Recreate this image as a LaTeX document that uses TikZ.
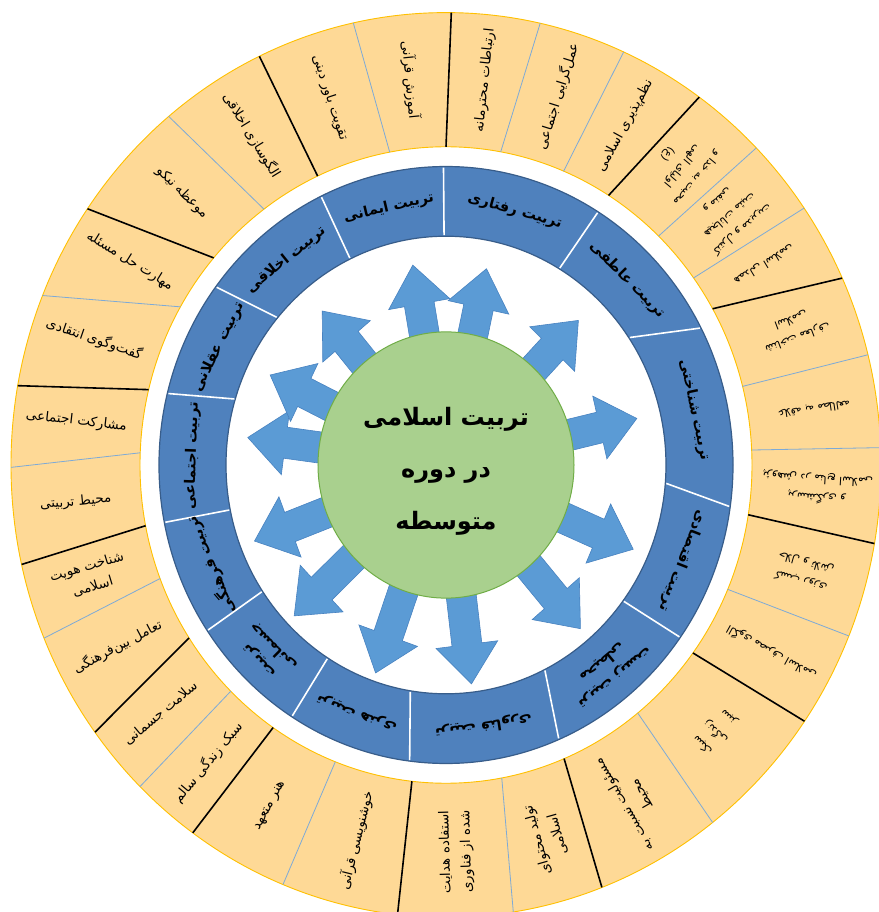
\documentclass[tikz,border=0pt]{standalone}
\usepackage{fontspec}
\TeXXeTstate=1
\newfontfamily\fa[Script=Arabic]{DejaVu Sans}
\newcommand\fr[1]{\beginR #1\endR}
\definecolor{ringfill}{RGB}{254,217,150}
\definecolor{ringedge}{RGB}{255,192,0}
\definecolor{sepblue}{RGB}{125,170,215}
\definecolor{segblue}{RGB}{79,129,189}
\definecolor{segedge}{RGB}{56,93,138}
\definecolor{arrowfill}{RGB}{91,155,213}
\definecolor{arrowedge}{RGB}{72,130,192}
\definecolor{hubfill}{RGB}{169,208,142}
\definecolor{hubedge}{RGB}{112,173,71}
\begin{document}
\begin{tikzpicture}[x=1pt,y=1pt,
  itemtxt/.style={font=\fa\fontsize{13.5}{21}\selectfont, align=center, inner sep=0pt, text=black},
  smalltxt/.style={font=\fa\fontsize{11}{19}\selectfont, align=center, inner sep=0pt, text=black},
  segtxt/.style={font=\fa\bfseries\fontsize{14.5}{20}\selectfont, align=center, inner sep=0pt, text=black},
  blacksep/.style={draw=black, line width=1.6pt},
  bluesep/.style={draw=sepblue, line width=0.8pt},
  whitesep/.style={draw=white, line width=1.6pt},
  blockarrow/.style={fill=arrowfill, draw=arrowedge, line width=0.6pt}]
\useasboundingbox (-446,-447) rectangle (432,465);
\begin{scope}[yscale=1.04]
  % outer ring
  \fill[ringfill, even odd rule] (0,0) circle[radius=435] (0,0) circle[radius=306];
  \draw[ringedge, line width=0.9pt] (0,0) circle[radius=435];
  \draw[ringedge, line width=0.9pt] (0,0) circle[radius=306];
  \foreach \a/\b in {90/89.3, 57.9/54.4, 29.4/24.4, 351/350, 323.8/325.5, 292.7/291, 263.6/263.6, 235.6/234.4, 212.9/216.2, 191/192.7, 166.3/169.9, 139.4/145.5, 114.8/115.4}
    \draw[blacksep] (\a:306) -- (\b:435);
  \foreach \a/\b in {100.6/102.3, 126.5/129.6, 150.2/158, 177.8/180.3, 200.9/202.5, 225.3/225.3, 248.8/248, 280.5/278.9, 308.8/307.8, 337/337.8, 2.7/2.2, 14.3/14.1, 36/34.6, 46/44.5, 67.4/65.9, 79.7/77.5}
    \draw[bluesep] (\a:306) -- (\b:435);
  % outer items
  \node[itemtxt, rotate=84]    (i1)  at (84:372)    {\fr{ارتباطات محترمانه}};
  \node[itemtxt, rotate=72.5]  (i2)  at (72.5:372)  {\fr{عمل‌گرایی اجتماعی}};
  \node[itemtxt, rotate=61.25] (i3)  at (61.25:372) {\fr{نظم‌پذیری اسلامی}};
  \node[smalltxt, rotate=-129.4] (i4) at (50.6:372) {\fr{محبت به خدا و}\\\fr{اولیای الهی}\\\fr{(ع)}};
  \node[smalltxt, rotate=-139.7] (i5) at (40.3:372) {\fr{کنترل و مدیریت}\\\fr{هیجانات مثبت}\\\fr{و منفی}};
  \node[smalltxt, rotate=-148.8] (i6) at (31.2:372) {\fr{همدلی اسلامی}};
  \node[smalltxt, rotate=-159.4] (i7) at (20.6:372) {\fr{شناخت معارف}\\\fr{اسلامی}};
  \node[smalltxt, rotate=-171.65] (i8) at (8.35:372) {\fr{علاقه به مطالعه}};
  \node[smalltxt, rotate=176.5] (i9) at (-3.5:372) {\fr{پرسشگری و}\\\fr{پژوهش در منابع اسلامی}};
  \node[smalltxt, rotate=164]  (i10) at (-16:372)  {\fr{کسب روزی}\\\fr{حلال و تلاش}};
  \node[smalltxt, rotate=151]  (i11) at (-29:372)  {\fr{الگوی مصرف اسلامی}};
  \node[smalltxt, rotate=136.5] (i12) at (-43.5:372) {\fr{سبک}\\\fr{زندگی}\\\fr{سبز}};
  \node[itemtxt, rotate=120.1] (i13) at (-59.9:372) {\fr{مسئولیت نسبت به}\\\fr{محیط}};
  \node[itemtxt, rotate=105.8] (i14) at (-74.2:372) {\fr{تولید محتوای}\\\fr{اسلامی}};
  \node[itemtxt, rotate=91.6]  (i15) at (-88.4:372) {\fr{استفاده هدایت}\\\fr{شده از فناوری}};
  \node[itemtxt, rotate=76]    (i16) at (256:372)   {\fr{خوشنویسی قرآنی}};
  \node[itemtxt, rotate=61.8]  (i17) at (241.8:372) {\fr{هنر متعهد}};
  \node[itemtxt, rotate=50.2]  (i18) at (230.2:372) {\fr{سبک زندگی سالم}};
  \node[itemtxt, rotate=39.9]  (i19) at (219.9:372) {\fr{سلامت جسمانی}};
  \node[itemtxt, rotate=28]    (i20) at (208:372)   {\fr{تعامل بین‌فرهنگی}};
  \node[itemtxt, rotate=16.8]  (i21) at (196.8:372) {\fr{شناخت هویت}\\\fr{اسلامی}};
  \node[itemtxt, rotate=5.5]   (i22) at (185.5:372) {\fr{محیط تربیتی}};
  \node[itemtxt, rotate=-6.5]  (i23) at (173.5:372) {\fr{مشارکت اجتماعی}};
  \node[itemtxt, rotate=-19]   (i24) at (161:372)   {\fr{گفت‌وگوی انتقادی}};
  \node[itemtxt, rotate=-31.8] (i25) at (148.2:372) {\fr{مهارت حل مسئله}};
  \node[itemtxt, rotate=-44.8] (i26) at (135.2:372) {\fr{موعظه نیکو}};
  \node[itemtxt, rotate=-58.5] (i27) at (121.5:372) {\fr{الگوسازی اخلاقی}};
  \node[itemtxt, rotate=-71.8] (i28) at (108.2:372) {\fr{تقویت باور دینی}};
  \node[itemtxt, rotate=-84.5] (i29) at (95.5:372)  {\fr{آموزش قرآنی}};
  % blue ring
  \fill[segblue, even odd rule] (0,0) circle[radius=287] (0,0) circle[radius=220];
  \draw[segedge, line width=1.2pt] (0,0) circle[radius=287];
  \draw[segedge, line width=1.2pt] (0,0) circle[radius=220];
  \foreach \a/\b in {90.5/90.5, 59/58, 33.7/27.4, 355.4/352, 323.6/324.7, 296.6/293.2, 260.7/262.7, 237.5/237.5, 213.5/213.7, 191.3/191.1, 163.3/166.1, 140/143.3, 115.8/115.8}
    \draw[whitesep] (\a:221) -- (\b:286);
  \node[segtxt, rotate=-15.75] (b1)  at (74.25:254)  {\fr{تربیت رفتاری}};
  \node[segtxt, rotate=-45.5]  (b2)  at (44.5:254)   {\fr{تربیت عاطفی}};
  \node[segtxt, rotate=-78]    (b3)  at (12:254)     {\fr{تربیت شناختی}};
  \node[segtxt, rotate=-111.25] (b4) at (-21.25:254) {\fr{تربیت اقتصادی}};
  \node[segtxt, rotate=-140.5] (b5)  at (-50.5:254)  {\fr{تربیت زیست}\\\fr{محیطی}};
  \node[segtxt, rotate=-171.5] (b6)  at (-81.5:254)  {\fr{تربیت فناوری}};
  \node[segtxt, rotate=159.5]  (b7)  at (249.5:254)  {\fr{تربیت هنری}};
  \node[segtxt, rotate=135.25] (b8)  at (225.25:254) {\fr{تربیت}\\\fr{جسمانی}};
  \node[segtxt, rotate=112.25] (b9)  at (202.25:254) {\fr{تربیت فرهنگی}};
  \node[segtxt, rotate=88]     (b10) at (178:254)    {\fr{تربیت اجتماعی}};
  \node[segtxt, rotate=63.5]   (b11) at (153.5:254)  {\fr{تربیت عقلانی}};
  \node[segtxt, rotate=39]     (b12) at (129:254)    {\fr{تربیت اخلاقی}};
  \node[segtxt, rotate=13]     (b13) at (103:254)    {\fr{تربیت ایمانی}};
  % arrows
  \foreach \t/\L in {99.8/195, 77.9/193, 46.4/192, 13.2/196, 336.6/204, 310.5/207, 276.9/212, 250.6/212, 223.7/210, 200.9/205, 172.4/200, 153.8/196, 129.9/193}
    \filldraw[blockarrow, rotate=\t] (95,-15) -- ({\L-38},-15) -- ({\L-38},-31) -- (\L,0) -- ({\L-38},31) -- ({\L-38},15) -- (95,15) -- cycle;
  % hub
  \filldraw[fill=hubfill, draw=hubedge, line width=1pt] (0,0) circle[radius=128];
\end{scope}
\node[font=\fa\bfseries\fontsize{24}{52}\selectfont, align=center, text=black] (hub) at (0,-6) {\fr{تربیت اسلامی}\\\fr{در دوره}\\\fr{متوسطه}};
\end{tikzpicture}
\end{document}
